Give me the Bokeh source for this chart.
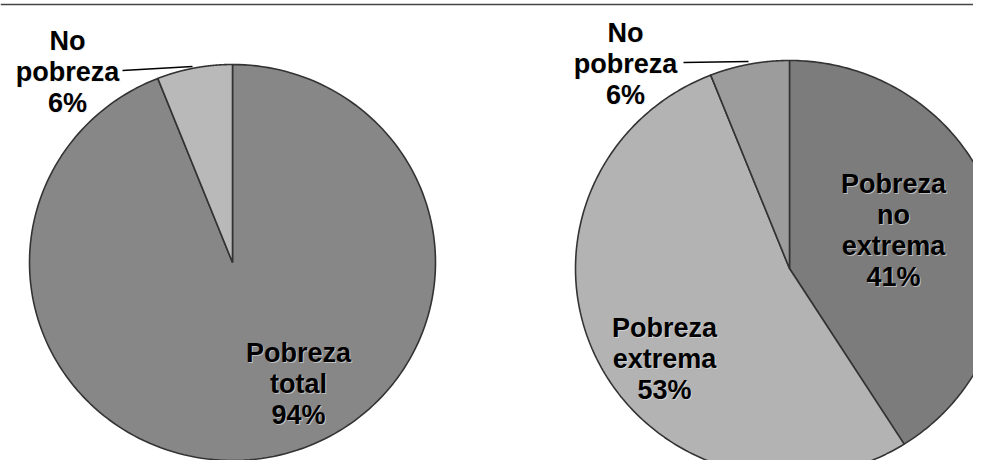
import numpy as np
from bokeh.plotting import figure
from bokeh.models import Range1d
from bokeh.core.properties import value
from bokeh.embed import file_html
from bokeh.resources import INLINE

# ---- data ----
left_labels = ["Pobreza\ntotal", "No\npobreza"]
left_values = [94, 6]
right_labels = ["Pobreza\nno\nextrema", "Pobreza\nextrema", "No\npobreza"]
right_values = [41, 53, 6]

# ---- styling / layout ----
left_colors = ["#878787", "#b9b9b9"]
right_colors = ["#7c7c7c", "#b3b3b3", "#9c9c9c"]
left_geom = dict(cx=232, cy=262, rx=203, ry=198)
right_geom = dict(cx=789, cy=268, rx=214, ry=208)
# label anchor: (center x, first baseline y)
left_label_pos = [(298, 352), (67, 40)]
right_label_pos = [(893, 183), (664, 327), (625, 32)]
line_step = 31

W, H = 973, 460
p = figure(width=W, height=H, output_backend="svg", toolbar_location=None,
           x_range=Range1d(0, W), y_range=Range1d(H, 0),
           min_border=0)
p.axis.visible = False
p.grid.visible = False
p.outline_line_color = None
p.background_fill_color = "white"
p.border_fill_color = "white"


def draw_pie(values, colors, g):
    total = float(sum(values))
    cum = 0.0
    for v, c in zip(values, colors):
        a0 = cum / total * 2 * np.pi
        cum += v
        a1 = cum / total * 2 * np.pi
        th = np.linspace(a0, a1, 200)
        xs = [g["cx"]] + list(g["cx"] + g["rx"] * np.sin(th)) + [g["cx"]]
        ys = [g["cy"]] + list(g["cy"] - g["ry"] * np.cos(th)) + [g["cy"]]
        p.patch(xs, ys, fill_color=c, line_color="#333333", line_width=1.6)


def draw_labels(labels, values, positions):
    for lab, v, (x, y) in zip(labels, values, positions):
        lines = lab.split("\n") + [f"{v}%"]
        for i, t in enumerate(lines):
            yy = y + i * line_step
            p.text(x=[x + 1], y=[yy + 1], text=[t], text_align="center",
                   text_baseline="alphabetic", text_font=value("Liberation Sans"),
                   text_font_style="bold", text_font_size="27px", text_color="#e8e8e8",
                   text_alpha=0.6)
            p.text(x=[x], y=[yy], text=[t], text_align="center",
                   text_baseline="alphabetic", text_font=value("Liberation Sans"),
                   text_font_style="bold", text_font_size="27px", text_color="#000000")


# top rule of the scanned page
p.line([0, W], [4, 4], line_color="#444444", line_width=1.5)

draw_pie(left_values, left_colors, left_geom)
draw_pie(right_values, right_colors, right_geom)

# leader lines for the small slices
p.line([122, 192], [70, 66], line_color="black", line_width=1.5)
p.line([683, 748], [62, 61], line_color="black", line_width=1.5)

draw_labels(left_labels, left_values, left_label_pos)
draw_labels(right_labels, right_values, right_label_pos)

open("out.html", "w").write(file_html(p, INLINE))
